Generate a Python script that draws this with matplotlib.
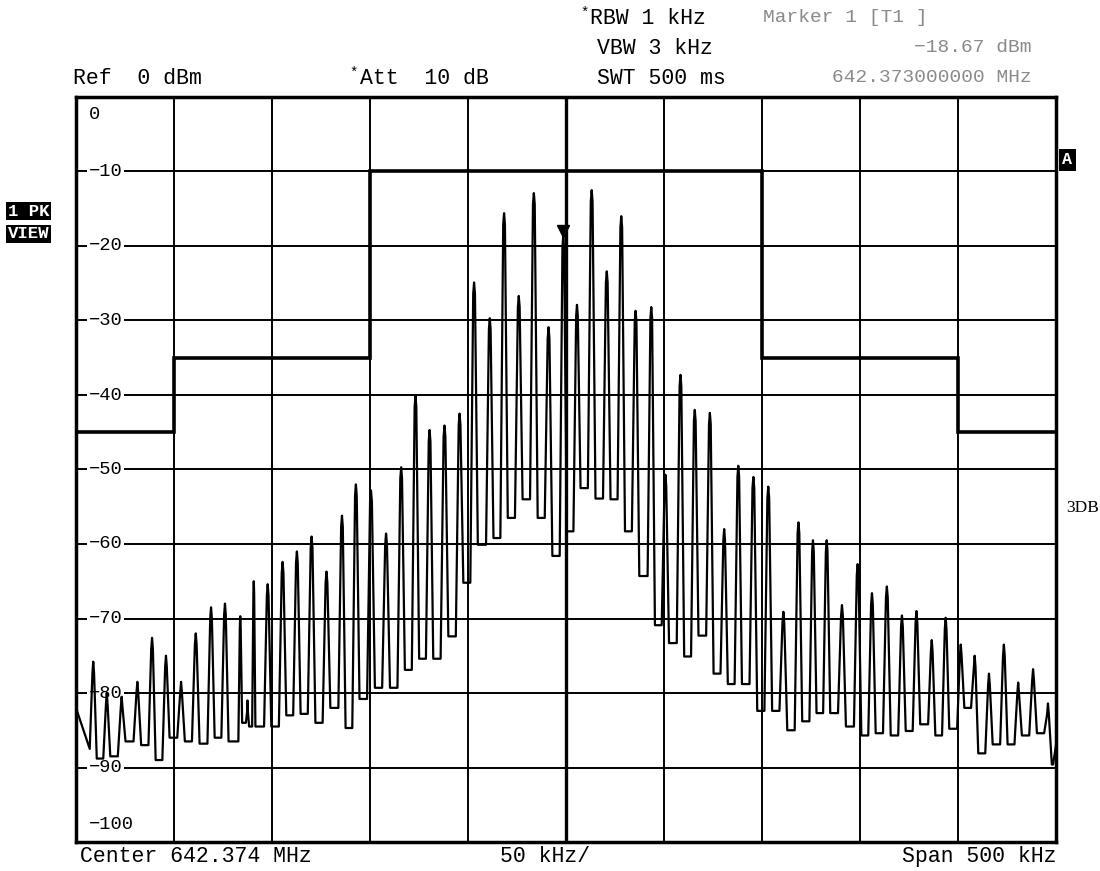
import numpy as np
import matplotlib.pyplot as plt

# spectrum trace: peak frequency offset (kHz), peak level (dBm)
peak_khz = [-241.2, -234.3, -226.7, -218.7, -211.2, -204.1, -196.4, -188.9, -181.1, -174.0,
            -166.2, -162.5, -159.3, -152.2, -144.6, -137.3, -129.8, -122.2, -114.3, -107.2,
            -99.5, -91.8, -84.1, -76.8, -69.6, -62.0, -54.3, -46.9, -38.9, -31.6,
            -24.1, -16.4, -8.9, -1.4, 5.6, 13.1, 20.8, 28.2, 35.5, 43.5,
            50.7, 58.4, 65.7, 73.4, 80.7, 87.9, 95.6, 103.2, 110.9, 118.6,
            126.0, 133.0, 140.8, 148.8, 156.1, 163.7, 171.4, 178.8, 186.6, 193.7,
            201.4, 208.5, 215.8, 223.4, 230.7, 238.3, 245.9]
peak_dbm = [-75.8, -80.0, -80.5, -78.5, -72.6, -75.0, -78.5, -72.0, -68.5, -68.0,
            -69.7, -81.0, -65.0, -65.4, -62.4, -61.0, -59.0, -63.7, -56.2, -52.0,
            -52.8, -58.6, -49.7, -40.1, -44.7, -44.1, -42.5, -24.9, -29.7, -15.6,
            -26.7, -12.9, -30.9, -18.67, -27.9, -12.5, -23.4, -16.0, -28.7, -28.2,
            -50.7, -37.3, -42.0, -42.4, -58.0, -49.5, -51.0, -52.3, -69.1, -57.1,
            -59.5, -59.5, -68.2, -62.7, -66.6, -65.7, -69.6, -69.0, -72.9, -69.9,
            -73.5, -75.0, -77.4, -73.5, -78.6, -76.8, -81.4]
# valley floor before, between and after the peaks
valley_dbm = [-87.5, -88.8, -88.5, -86.5, -87.0, -89.0, -86.0, -86.5, -86.8, -86.0,
              -86.5, -84.0, -84.5, -84.5, -84.5, -83.0, -82.8, -84.0, -82.0, -84.7,
              -80.8, -79.3, -79.3, -76.9, -75.4, -75.4, -72.4, -65.2, -60.1, -59.2,
              -56.5, -54.0, -56.5, -61.6, -58.3, -52.5, -53.9, -54.0, -58.3, -64.3,
              -70.9, -73.3, -75.1, -72.3, -77.4, -78.8, -78.8, -82.4, -82.4, -85.0,
              -83.8, -82.7, -82.7, -84.5, -85.7, -85.4, -85.7, -85.1, -84.2, -85.7,
              -84.8, -82.0, -88.1, -86.9, -86.9, -85.7, -85.4, -89.6]
trace_start = -82.0
trace_end = -87.0

# limit line
limit_edges = [-250, -200, -100, 100, 200, 250]
limit_dbm = [-45, -35, -10, -35, -45]

marker_khz = -1.4
marker_dbm = -18.67

y_levels = [-10, -20, -30, -40, -50, -60, -70, -80, -90]

mono = 'Liberation Mono'
W, H = 1100, 871

fig = plt.figure(figsize=(11, 8.71), dpi=100)
ax = fig.add_axes([76 / W, (H - 842) / H, 980 / W, 745 / H])
ax.set_xlim(-250, 250)
ax.set_ylim(-100, 0)
ax.set_xticks(np.arange(-250, 251, 50))
ax.set_yticks(np.arange(-100, 1, 10))
ax.set_axisbelow(True)
ax.grid(color='black', lw=1.4)
ax.tick_params(length=0, labelbottom=False, labelleft=False)
for sp in ax.spines.values():
    sp.set_linewidth(2.5)
ax.axvline(0, color='black', lw=2.4, zorder=0.6)

# build the trace polyline from peaks and valleys
xs = [-250.0]
ys = [trace_start]
pk = np.array(peak_khz)
for i, (f, p) in enumerate(zip(peak_khz, peak_dbm)):
    gaps = []
    if i > 0:
        gaps.append(f - pk[i - 1])
    if i < len(pk) - 1:
        gaps.append(pk[i + 1] - f)
    w = 0.26 * min(gaps)
    top = 0.06 * min(gaps)
    xs += [f - w, f - top, f, f + top, f + w]
    ys += [valley_dbm[i], p - 1.5, p, p - 1.5, valley_dbm[i + 1]]
xs += [248.5, 250.0]
ys += [valley_dbm[-1], trace_end]

ax.stairs(limit_dbm, limit_edges, color='black', lw=2.6, baseline=None, zorder=2)
ax.plot(xs, ys, color='black', lw=1.6, zorder=3, solid_joinstyle='round')
ax.plot([marker_khz], [marker_dbm + 0.7], marker='v', color='black', ms=8, zorder=4)

# level labels inside the grid
lab_kw = dict(fontsize=13.5, family=mono, va='center', ha='left', zorder=1.5,
              bbox=dict(facecolor='white', edgecolor='none', pad=1.0))
ax.text(-243.5, -2.4, '0', **lab_kw)
for lv in y_levels:
    ax.text(-243.5, lv, '\u2212' + str(-lv), **lab_kw)
ax.text(-243.5, -97.7, '\u2212100', **lab_kw)


def ftext(x, y, s, **kw):
    kw.setdefault('family', mono)
    kw.setdefault('fontsize', 15.5)
    kw.setdefault('va', 'center')
    fig.text(x / W, 1 - y / H, s, **kw)


ftext(73, 78, 'Ref  0 dBm')
ftext(349, 73, '*', fontsize=10)
ftext(360, 78, 'Att  10 dB')
ftext(580, 13, '*', fontsize=10)
ftext(590, 18, 'RBW 1 kHz')
ftext(597, 48, 'VBW 3 kHz')
ftext(597, 78, 'SWT 500 ms')
ftext(763, 18, 'Marker 1 [T1 ]', color='#8a8a8a', fontsize=14)
ftext(1032, 48, '\u221218.67 dBm', color='#8a8a8a', fontsize=14, ha='right')
ftext(1032, 78, '642.373000000 MHz', color='#8a8a8a', fontsize=14, ha='right')
ftext(80, 856, 'Center 642.374 MHz')
ftext(500, 856, '50 kHz/')
ftext(1056, 856, 'Span 500 kHz', ha='right')

box = dict(facecolor='black', edgecolor='none', pad=1.2)
ftext(8, 211, '1 PK', color='white', fontsize=12.5, weight='bold', bbox=box)
ftext(8, 234, 'VIEW', color='white', fontsize=12.5, weight='bold', bbox=box)
ftext(1062, 160, 'A', color='white', fontsize=12, weight='bold',
      bbox=dict(facecolor='black', edgecolor='none', pad=2.5))
ftext(1066, 508, '3DB', fontsize=12.5, family='Liberation Serif')

fig.savefig('out.png', dpi=100)
